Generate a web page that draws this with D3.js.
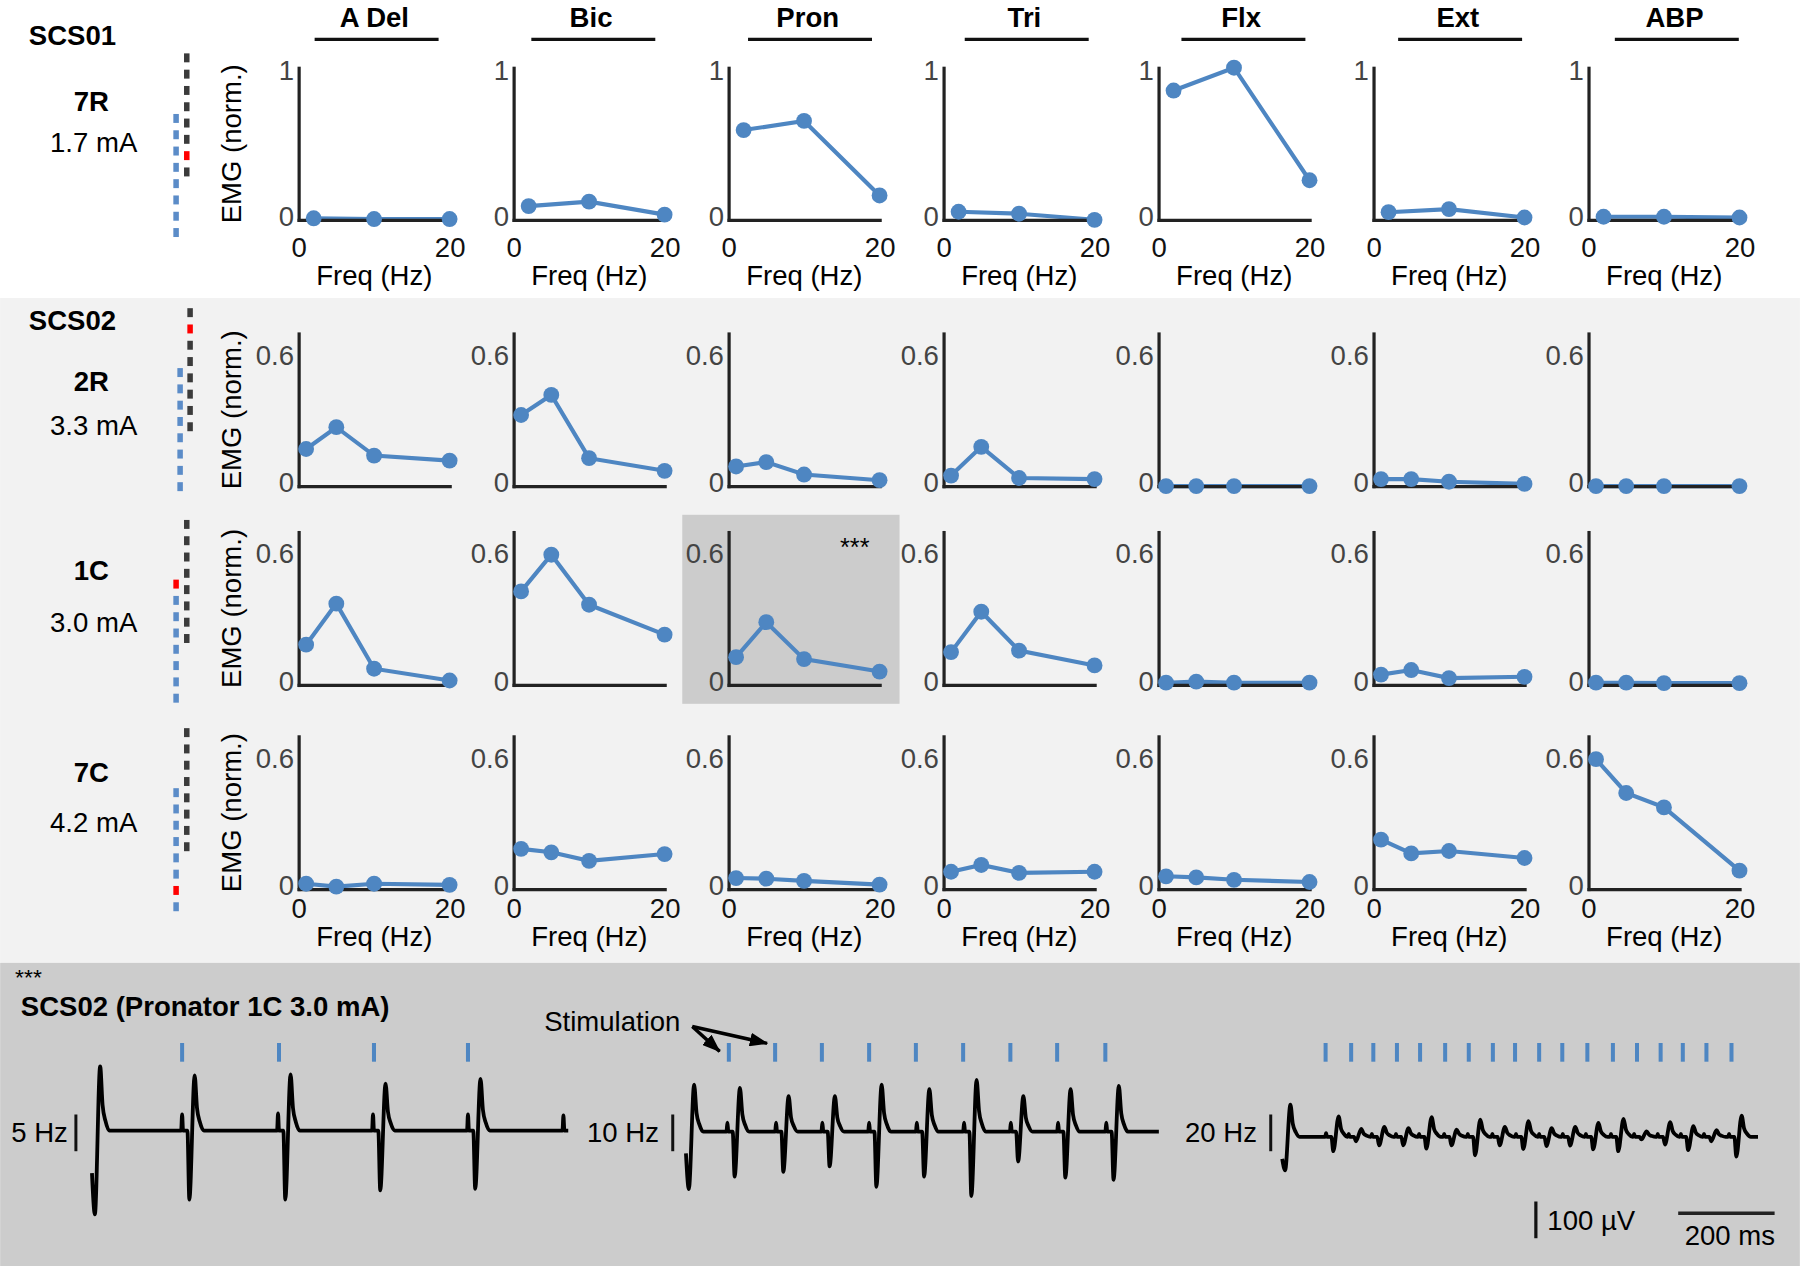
<!DOCTYPE html>
<html>
<head>
<meta charset="utf-8">
<script src="https://cdn.jsdelivr.net/npm/d3@7"></script>
<style>
body { margin: 0; background: #fff; }
svg { display: block; font-family: "Liberation Sans", Arial, Helvetica, sans-serif; }
</style>
</head>
<body>
<script>
// muscles, one column each
var muscles = ["A Del", "Bic", "Pron", "Tri", "Flx", "Ext", "ABP"];

// stimulation frequencies (Hz)
var freqsSCS01 = [2, 10, 20];
var freqsSCS02 = [1, 5, 10, 20];

// normalised EMG, one inner array per muscle (same order as muscles)
var emgSCS01_7R = [
  [0.01, 0.005, 0.005],
  [0.09, 0.119, 0.034],
  [0.59, 0.65, 0.16],
  [0.053, 0.04, 0.0],
  [0.85, 1.0, 0.26],
  [0.05, 0.07, 0.015],
  [0.02, 0.02, 0.015]
];
var emgSCS02_2R = [
  [0.17, 0.27, 0.14, 0.117],
  [0.326, 0.418, 0.128, 0.07],
  [0.09, 0.11, 0.053, 0.027],
  [0.048, 0.18, 0.037, 0.032],
  [0.0, 0.0, 0.0, 0.0],
  [0.032, 0.032, 0.02, 0.01],
  [0.0, 0.0, 0.0, 0.0]
];
var emgSCS02_1C = [
  [0.184, 0.372, 0.074, 0.02],
  [0.428, 0.596, 0.367, 0.23],
  [0.127, 0.287, 0.118, 0.061],
  [0.15, 0.335, 0.157, 0.089],
  [0.01, 0.015, 0.01, 0.01],
  [0.047, 0.068, 0.031, 0.037],
  [0.01, 0.01, 0.008, 0.008]
];
var emgSCS02_7C = [
  [0.024, 0.011, 0.024, 0.019],
  [0.184, 0.168, 0.129, 0.16],
  [0.05, 0.047, 0.037, 0.02],
  [0.079, 0.11, 0.074, 0.079],
  [0.058, 0.053, 0.042, 0.032],
  [0.226, 0.163, 0.174, 0.142],
  [0.595, 0.44, 0.374, 0.084]
];

// example EMG sweeps, SCS02 pronator 1C 3.0 mA
// each response: [ms of negative peak, artifact uV, negative uV, positive uV]
var resp5Hz = [[6, 0, -228, 175], [202, 44, -188, 150], [401, 47, -188, 153], [598, 44, -163, 128], [795, 44, -159, 141], [993, 41, 0, 0]];
var resp10Hz = [[6, 0, -156, 128], [101, 25, -122, 119], [202, 25, -109, 97], [298, 25, -94, 97], [395, 25, -150, 128],
  [494, 25, -122, 116], [592, 25, -175, 141], [689, 25, -81, 97], [787, 25, -125, 116], [887, 25, -131, 125]];
var resp20Hz = [[6, 0, -91, 88], [106, 10, -39, 56], [153, 8, -12, 22], [201, 8, -23, 27], [251, 8, -23, 24], [299, 8, -32, 54],
  [351, 8, -23, 20], [400, 8, -50, 47], [451, 8, -23, 27], [500, 8, -33, 43], [548, 8, -25, 24], [597, 8, -24, 27],
  [645, 8, -34, 38], [697, 8, -39, 49], [745, 8, -7, 15], [794, 8, -21, 40], [842, 8, -36, 29], [890, 8, -12, 18], [942, 8, -54, 58]];
// stimulation pulses (ms)
var stim5Hz = [187, 388, 585, 780];
var stim10Hz = [89, 185, 282, 380, 477, 575, 673, 770, 870];
var stim20Hz = [90, 143, 189, 238, 286, 338, 387, 437, 483, 533, 581, 633, 686, 736, 785, 831, 880, 932];
// response shape around the negative peak: [ms offset, artifact w, negative w, positive w]
var spikeShape = [[-17, 0, 0, 0], [-15, 1, 0, 0], [-13, 0, 0, 0], [-4, 0, 0, 0], [0, 0, 1, 0], [11, 0, 0, 1], [16, 0, 0, 0.4], [22, 0, 0, 0.15], [30, 0, 0, 0]];

var BLUE = "#4e86c2", FONT = "\"Liberation Sans\", Arial, Helvetica, sans-serif";
var W = 1568, H = 1103;   // drawing units, scaled up to 1800x1266

var svg = d3.select("body").append("svg")
  .attr("width", 1800).attr("height", 1266)
  .attr("viewBox", "0 0 " + W + " " + H);

// background bands
svg.append("rect").attr("x", 0).attr("y", 0).attr("width", W).attr("height", 260).attr("fill", "#fff");
svg.append("rect").attr("x", 0).attr("y", 259.6).attr("width", W).attr("height", 579.3).attr("fill", "#f2f2f2");
svg.append("rect").attr("x", 0).attr("y", 838.9).attr("width", W).attr("height", H - 838.9).attr("fill", "#cccccc");

var colX0 = 260, colStep = 187.3, axisLen = 131.6;
var titleX0 = 328, titleStep = 188.8;

var rows = [
  {subject: "SCS01", site: "7R", amp: "1.7 mA", freqs: freqsSCS01, data: emgSCS01_7R, yMax: 1, ticks: [0, 1],
   top: 59, base: 191.5, xLabels: true, xPad: 15, freqY: 248, subjY: 39.6, siteY: 97, ampY: 132.6,
   leads: [{x: 162.6, top: 46.5, color: "#3b3b3b", active: 6}, {x: 153.3, top: 99.3, color: "#5b8cc8", active: -1}],
   hideZero: ["Ext"]},
  {subject: "SCS02", site: "2R", amp: "3.3 mA", freqs: freqsSCS02, data: emgSCS02_2R, yMax: 0.7, ticks: [0, 0.6],
   top: 290.5, base: 423.5, xLabels: false, subjY: 287.5, siteY: 340.4, ampY: 379,
   leads: [{x: 165.5, top: 268.5, color: "#3b3b3b", active: 1}, {x: 156.8, top: 320.7, color: "#5b8cc8", active: -1}]},
  {site: "1C", amp: "3.0 mA", freqs: freqsSCS02, data: emgSCS02_1C, yMax: 0.7, ticks: [0, 0.6],
   top: 463.5, base: 596.7, xLabels: false, siteY: 505.6, ampY: 550.6, highlight: "Pron",
   leads: [{x: 162.6, top: 453, color: "#3b3b3b", active: -1}, {x: 153.3, top: 505, color: "#5b8cc8", active: 0}]},
  {site: "7C", amp: "4.2 mA", freqs: freqsSCS02, data: emgSCS02_7C, yMax: 0.7, ticks: [0, 0.6],
   top: 641.5, base: 774.5, xLabels: true, xPad: 8, freqY: 824, siteY: 681.6, ampY: 724.6,
   leads: [{x: 162.6, top: 634.4, color: "#3b3b3b", active: -1}, {x: 153.3, top: 686.7, color: "#5b8cc8", active: 6}]}
];

// column titles
muscles.forEach(function(m, mi) {
  var cx = titleX0 + mi * titleStep;
  svg.append("text").attr("x", cx - 2).attr("y", 23.2).attr("text-anchor", "middle")
    .attr("font-size", 24).attr("font-weight", "bold").text(m);
  svg.append("line").attr("x1", cx - 54).attr("x2", cx + 54).attr("y1", 34.3).attr("y2", 34.3)
    .attr("stroke", "#111").attr("stroke-width", 3);
});

rows.forEach(function(row) {
  // left labels
  if (row.subject) {
    svg.append("text").attr("x", 25).attr("y", row.subjY).attr("font-size", 24).attr("font-weight", "bold").text(row.subject);
  }
  svg.append("text").attr("x", 79.5).attr("y", row.siteY).attr("text-anchor", "middle")
    .attr("font-size", 24).attr("font-weight", "bold").text(row.site);
  svg.append("text").attr("x", 81.5).attr("y", row.ampY).attr("text-anchor", "middle")
    .attr("font-size", 24).text(row.amp);

  // electrode leads, 8 contacts each
  row.leads.forEach(function(ld) {
    svg.append("g").selectAll("rect").data(d3.range(8)).join("rect")
      .attr("x", ld.x - 2.4).attr("y", function(i) { return ld.top + i * 14.2; })
      .attr("width", 4.8).attr("height", 7.8)
      .attr("fill", function(i) { return i === ld.active ? "#ff0000" : ld.color; });
  });

  var y = d3.scaleLinear().domain([0, row.yMax]).range([row.base, row.top]);

  // y label
  svg.append("text")
    .attr("transform", "translate(210," + ((row.top + row.base) / 2) + ") rotate(-90)")
    .attr("text-anchor", "middle").attr("font-size", 24).text("EMG (norm.)");

  muscles.forEach(function(m, mi) {
    var ax = colX0 + mi * colStep;
    var x = d3.scaleLinear().domain([0, 20]).range([ax, ax + axisLen]);
    var g = svg.append("g");

    if (row.highlight === m) {
      g.append("rect").attr("x", ax - 40.3).attr("y", row.top - 15).attr("width", 189.3).attr("height", row.base - row.top + 31.5)
        .attr("fill", "#cccccc");
      g.append("text").attr("x", ax + 110).attr("y", row.top + 21).attr("text-anchor", "middle")
        .attr("font-size", 22).text("***");
    }

    var pts = row.data[mi].map(function(v, i) { return [row.freqs[i], v]; });

    g.append("path").datum(pts)
      .attr("d", d3.line().x(function(d) { return x(d[0]); }).y(function(d) { return y(d[1]); }))
      .attr("fill", "none").attr("stroke", BLUE).attr("stroke-width", 3.6);

    var yAx = g.append("g").attr("transform", "translate(" + ax + ",0)")
      .call(d3.axisLeft(y).tickValues(row.ticks).tickSize(0).tickSizeOuter(0).tickPadding(4).tickFormat(d3.format("~g")));
    yAx.selectAll("text").attr("font-size", 24).attr("fill", "#444").attr("font-family", FONT)
      .attr("dy", function(d) { return d === 0 ? "0.19em" : (d === 1 ? "0.42em" : "0.32em"); });
    if (row.hideZero && row.hideZero.indexOf(m) >= 0) {
      yAx.selectAll(".tick").filter(function(d) { return d === 0; }).remove();
    }

    var xAx = g.append("g").attr("transform", "translate(0," + row.base + ")")
      .call(d3.axisBottom(x).tickValues(row.xLabels ? [0, 20] : []).tickSize(0).tickSizeOuter(0).tickPadding(row.xPad || 0));
    xAx.selectAll("text").attr("font-size", 24).attr("fill", "#111").attr("font-family", FONT);

    g.selectAll(".domain").attr("stroke", "#222").attr("stroke-width", 2.8).attr("stroke-linecap", "square");

    g.selectAll("circle").data(pts).join("circle")
      .attr("cx", function(d) { return x(d[0]); }).attr("cy", function(d) { return y(d[1]); })
      .attr("r", 6.9).attr("fill", BLUE);

    if (row.xLabels) {
      g.append("text").attr("x", ax + 66).attr("y", row.freqY).attr("text-anchor", "middle")
        .attr("font-size", 24).text("Freq (Hz)");
    }
  });
});

// ---- bottom: example sweeps ----
svg.append("text").attr("x", 13).attr("y", 858).attr("font-size", 20).text("***");
svg.append("text").attr("x", 18).attr("y", 885).attr("font-size", 24).attr("font-weight", "bold").text("SCS02 (Pronator 1C 3.0 mA)");

var pxPerMs = 0.42, uvPx = 32 / 100;
var traces = [
  {label: "5 Hz", resp: resp5Hz, stim: stim5Hz, start: -116, end: 988, x0: 80, base: 985, labelX: 59, barX: 66},
  {label: "10 Hz", resp: resp10Hz, stim: stim10Hz, start: -59, end: 981, x0: 597.5, base: 986, labelX: 574, barX: 586},
  {label: "20 Hz", resp: resp20Hz, stim: stim20Hz, start: -60, end: 987, x0: 1117, base: 990.5, labelX: 1095, barX: 1107}
];

function tracePoints(tr) {
  var pts = [[0, tr.start]];
  tr.resp.forEach(function(r, i) {
    spikeShape.forEach(function(s) {
      var t = r[0] + s[0];
      if (t <= 0 || t >= tr.end) return;
      if (i === 0 && s[0] < 0) return;
      pts.push([t, s[1] * r[1] + s[2] * r[2] + s[3] * r[3]]);
    });
  });
  pts.push([tr.end, 0]);
  return pts;
}

var arrowTips = [];
traces.forEach(function(tr) {
  var x = d3.scaleLinear().domain([0, 1000]).range([tr.x0, tr.x0 + 1000 * pxPerMs]);
  var y = d3.scaleLinear().domain([0, 100]).range([tr.base, tr.base - 100 * uvPx]);
  var g = svg.append("g");

  g.append("path").datum(tracePoints(tr))
    .attr("d", d3.line().x(function(d) { return x(d[0]); }).y(function(d) { return y(d[1]); }).curve(d3.curveMonotoneX))
    .attr("fill", "none").attr("stroke", "#000").attr("stroke-width", 3.3).attr("stroke-linejoin", "round");

  g.selectAll("line.stim").data(tr.stim).join("line").attr("class", "stim")
    .attr("x1", function(d) { return x(d); }).attr("x2", function(d) { return x(d); })
    .attr("y1", 908.7).attr("y2", 925).attr("stroke", BLUE).attr("stroke-width", 3.5);

  g.append("text").attr("x", tr.labelX).attr("y", 994.6).attr("text-anchor", "end")
    .attr("font-size", 24).text(tr.label);
  g.append("line").attr("x1", tr.barX).attr("x2", tr.barX).attr("y1", 987 + 50 * uvPx).attr("y2", 987 - 50 * uvPx)
    .attr("stroke", "#111").attr("stroke-width", 2.6);

  if (tr.label === "10 Hz") {
    arrowTips = [[x(tr.stim[0]) - 8, 916], [x(tr.stim[1]) - 7, 909]];
  }
});

// stimulation annotation
svg.append("defs").append("marker").attr("id", "ah")
  .attr("markerUnits", "userSpaceOnUse").attr("markerWidth", 16).attr("markerHeight", 12)
  .attr("refX", 15).attr("refY", 6).attr("orient", "auto")
  .append("path").attr("d", "M0,0 L16,6 L0,12 Z").attr("fill", "#000");
svg.append("text").attr("x", 474).attr("y", 898.6).attr("font-size", 24).text("Stimulation");
arrowTips.forEach(function(tip) {
  svg.append("line").attr("x1", 603).attr("y1", 894.3).attr("x2", tip[0]).attr("y2", tip[1])
    .attr("stroke", "#000").attr("stroke-width", 3).attr("marker-end", "url(#ah)");
});

// scale bars
svg.append("line").attr("x1", 1338).attr("x2", 1338).attr("y1", 1046.8).attr("y2", 1046.8 + 100 * uvPx)
  .attr("stroke", "#111").attr("stroke-width", 2.8);
svg.append("text").attr("x", 1348).attr("y", 1071.5).attr("font-size", 24).text("100 µV");
svg.append("line").attr("x1", 1462).attr("x2", 1462 + 200 * pxPerMs).attr("y1", 1057).attr("y2", 1057)
  .attr("stroke", "#222").attr("stroke-width", 3);
svg.append("text").attr("x", 1507).attr("y", 1084.5).attr("text-anchor", "middle").attr("font-size", 24).text("200 ms");
</script>
</body>
</html>
